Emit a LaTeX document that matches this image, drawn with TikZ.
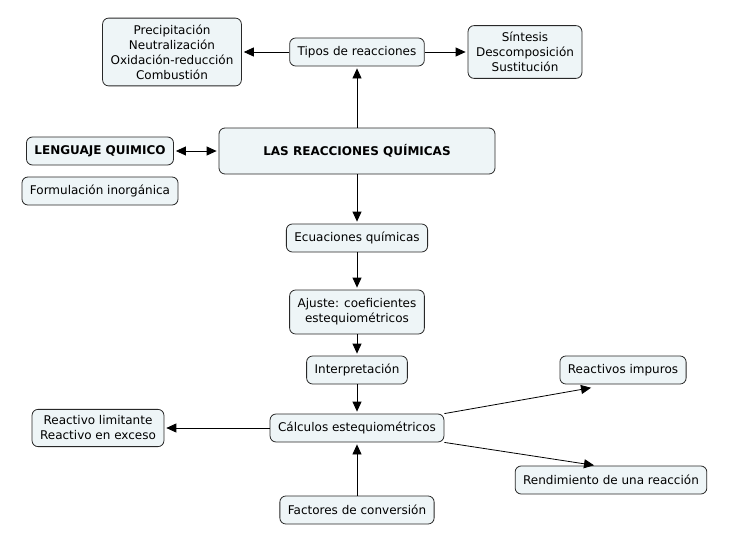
\documentclass[tikz,border=0pt]{standalone}
\usepackage{fontspec}
\setmainfont{DejaVu Sans}
\usetikzlibrary{arrows,arrows.meta}
\usetikzlibrary{positioning}
\usetikzlibrary{calc}
\definecolor{boxfill}{RGB}{238,245,247}
\definecolor{boxline}{RGB}{40,40,40}
\tikzstyle{concept}=[draw=boxline, fill=boxfill, rounded corners=6pt, line width=0.8pt, inner xsep=8pt, inner ysep=6.5pt, minimum height=28pt, align=center]
\tikzstyle{link}=[-{Triangle[length=10pt,width=9pt]}, line width=0.8pt, shorten >=2pt]

\begin{document}
\begin{tikzpicture}[x=1pt,y=1pt,node distance=80pt,>=latex']
  \tikzset{
    font={\fontsize{12pt}{15pt}\selectfont}
  }
    \useasboundingbox (0,0) rectangle (729,-546);

    \node [concept, minimum width=276pt, minimum height=46pt, font={\fontsize{12pt}{15pt}\selectfont\bfseries}] (las) at (357,-151) {LAS REACCIONES QU\'IMICAS};
    \node [concept] (tipos) [above of=las, node distance=99pt] {Tipos de reacciones};
    \node [concept] (clases) [left of=tipos, node distance=185pt] {Precipitaci\'on\\Neutralizaci\'on\\Oxidaci\'on-reducci\'on\\Combusti\'on};
    \node [concept] (sint) [right of=tipos, node distance=168pt] {S\'intesis\\Descomposici\'on\\Sustituci\'on};
    \node [concept, font={\fontsize{12pt}{15pt}\selectfont\bfseries}] (leng) [left of=las, node distance=257pt] {LENGUAJE QUIMICO};
    \node [concept] (formul) [below of=leng, node distance=40pt] {Formulaci\'on inorg\'anica};

    \node [concept] (ecu) [below of=las, node distance=87pt] {Ecuaciones qu\'imicas};
    \node [concept, minimum height=44pt] (ajuste) [below of=ecu, node distance=74pt] {Ajuste: coeficientes\\estequiom\'etricos};
    \node [concept] (interp) [below of=ajuste, node distance=58pt] {Interpretaci\'on};
    \node [concept] (calc) [below of=interp, node distance=58pt] {C\'alculos estequiom\'etricos};
    \node [concept] (factor) [below of=calc, node distance=82pt] {Factores de conversi\'on};
    \node [concept] (limit) [left of=calc, node distance=259pt] {Reactivo limitante\\Reactivo en exceso};
    \node [concept] (impur) [right of=interp, node distance=266pt] {Reactivos impuros};
    \node [concept] (rend) at ($(calc)+(254,-52)$) {Rendimiento de una reacci\'on};

    \draw[link] (tipos) -- (clases);
    \draw[link] (tipos) -- (sint);
    \draw[link] (las) -- (tipos);
    \draw[link, {Triangle[length=10pt,width=9pt]}-{Triangle[length=10pt,width=9pt]}, shorten <=2pt] (leng) -- (las);

    \draw[link] (las) -- (ecu);
    \draw[link] (ecu) -- (ajuste);
    \draw[link] (ajuste) -- (interp);
    \draw[link] (interp) -- (calc);
    \draw[link] (calc) -- (limit);
    \draw[link] (factor) -- (calc);
    \draw[link] (calc.north east) -- ([xshift=-30pt,yshift=-3pt]impur.south);
    \draw[link] (calc.south east) -- ([xshift=-15pt]rend.north);
\end{tikzpicture}
\end{document}
